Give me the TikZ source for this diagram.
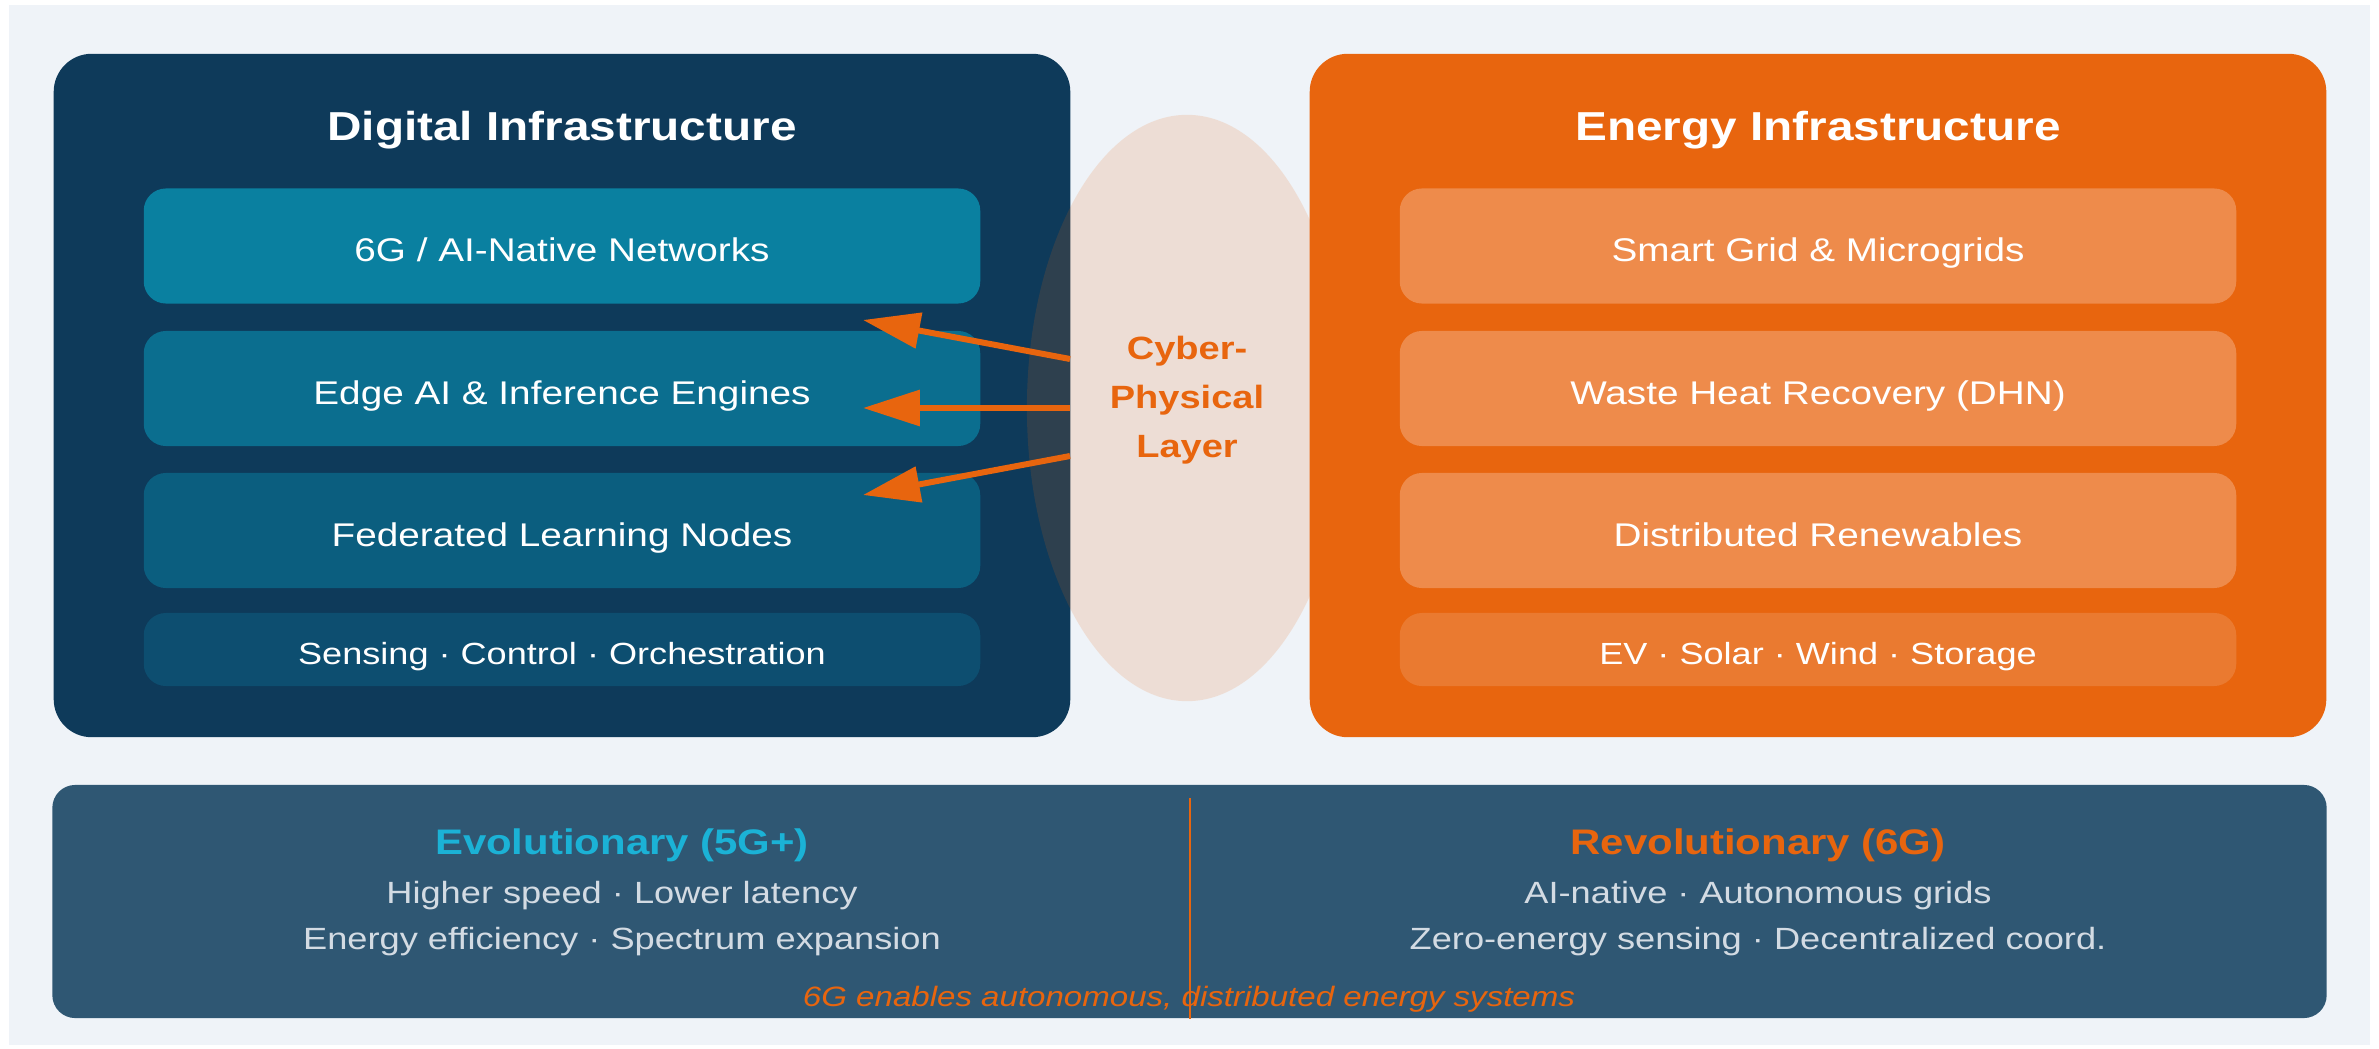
\documentclass[tikz,border=0pt]{standalone}
\usepackage{fontspec}
\setmainfont{Liberation Sans}[FakeStretch=1.18]
\usetikzlibrary{arrows.meta,shapes.geometric}

\definecolor{bgcol}{HTML}{EFF3F8}
\definecolor{navy}{HTML}{0E3A5A}
\definecolor{orng}{HTML}{E8650E}
\definecolor{tealA}{HTML}{0A80A0}
\definecolor{tealB}{HTML}{0B6E8F}
\definecolor{tealC}{HTML}{0B5E7F}
\definecolor{tealD}{HTML}{0D4E70}
\definecolor{peachA}{HTML}{EE8B4B}
\definecolor{peachD}{HTML}{EA7A30}
\definecolor{slate}{HTML}{2F5773}
\definecolor{cyanT}{HTML}{1BB2D6}
\definecolor{greyT}{HTML}{D3DBE3}

\tikzset{
  outer/.style={rounded corners=10.8pt, minimum width=10.16cm, minimum height=6.83cm, inner sep=0pt},
  title/.style={anchor=base, inner sep=0pt, text=white, font=\bfseries\fontsize{11.5}{14}\selectfont},
  layer/.style={rounded corners=6.3pt, minimum width=8.36cm, minimum height=1.15cm, inner sep=0pt,
    text=white, font=\fontsize{9.33}{11}\selectfont, text height=9.1pt, text depth=0pt},
  tagrow/.style={layer, minimum height=0.73cm, font=\fontsize{8.7}{10}\selectfont, text height=8.5pt},
  link/.style={orng, line width=1.7pt, -{Triangle[length=16.2pt,width=10pt]}},
  subhead/.style={anchor=base, inner sep=0pt, font=\bfseries\fontsize{10.1}{12}\selectfont},
  point/.style={anchor=base, inner sep=0pt, text=greyT, font=\fontsize{8.73}{10}\selectfont}
}

\begin{document}
\begin{tikzpicture}[x=0.01cm,y=-0.01cm]
\useasboundingbox (0,0) rectangle (2379,1049);
\fill[bgcol] (9,5) rectangle (2370,1045);

% digital side
\node[outer, fill=navy] (digital) at (562,395.5) {};
\node[title] (digitaltitle) at (562,141) {Digital Infrastructure};
\node[layer, fill=tealA] (net) at (562,246) {6G / AI-Native Networks};
\node[layer, fill=tealB] (edge) at (562,388.5) {Edge AI \& Inference Engines};
\node[layer, fill=tealC] (fed) at (562,530.5) {Federated Learning Nodes};
\node[tagrow, fill=tealD] (sense) at (562,649.5) {Sensing · Control · Orchestration};

% energy side
\node[outer, fill=orng] (energy) at (1818,395.5) {};
\node[title] (energytitle) at (1818,141) {Energy Infrastructure};
\node[layer, fill=peachA] (grid) at (1818,246) {Smart Grid \& Microgrids};
\node[layer, fill=peachA] (heat) at (1818,388.5) {Waste Heat Recovery (DHN)};
\node[layer, fill=peachA] (renew) at (1818,530.5) {Distributed Renewables};
\node[tagrow, fill=peachD] (ev) at (1818,649.5) {EV · Solar · Wind · Storage};

% cyber-physical layer
\node[ellipse, fill=orng, fill opacity=.15, minimum width=3.2cm, minimum height=5.86cm, inner sep=0pt] (cps) at (1187,408) {};
\node[align=center, inner sep=0pt, text=orng, font=\bfseries\fontsize{9.16}{13.9}\selectfont] (cpslabel) at (1187,400) {Cyber-\\Physical\\Layer};

\coordinate (s1) at (1070,359);
\coordinate (s2) at (1070,408);
\coordinate (s3) at (1070,456);
\coordinate (t1) at (863,320);
\coordinate (t2) at (863,408);
\coordinate (t3) at (863,495);
\draw[link] (s1) -- (t1);
\draw[link] (s2) -- (t2);
\draw[link] (s3) -- (t3);

% bottom panel
\node[fill=slate, rounded corners=6.5pt, minimum width=22.73cm, minimum height=2.33cm, inner sep=0pt] (bottom) at (1189.5,901.5) {};
\coordinate (divtop) at (1190,798);
\draw[orng, line width=.6pt] (divtop) -- (divtop |- bottom.south);

\node[subhead, text=cyanT] (evo) at (622,854) {Evolutionary (5G+)};
\node[point] (evo1) at (622,903) {Higher speed · Lower latency};
\node[point] (evo2) at (622,949) {Energy efficiency · Spectrum expansion};
\node[subhead, text=orng] (rev) at (1758,854) {Revolutionary (6G)};
\node[point] (rev1) at (1758,903) {AI-native · Autonomous grids};
\node[point] (rev2) at (1758,949) {Zero-energy sensing · Decentralized coord.};
\node[anchor=base, inner sep=0pt, text=orng, font=\itshape\fontsize{7.97}{9}\selectfont] (claim) at (1189,1006) {6G enables autonomous, distributed energy systems};
\end{tikzpicture}
\end{document}
